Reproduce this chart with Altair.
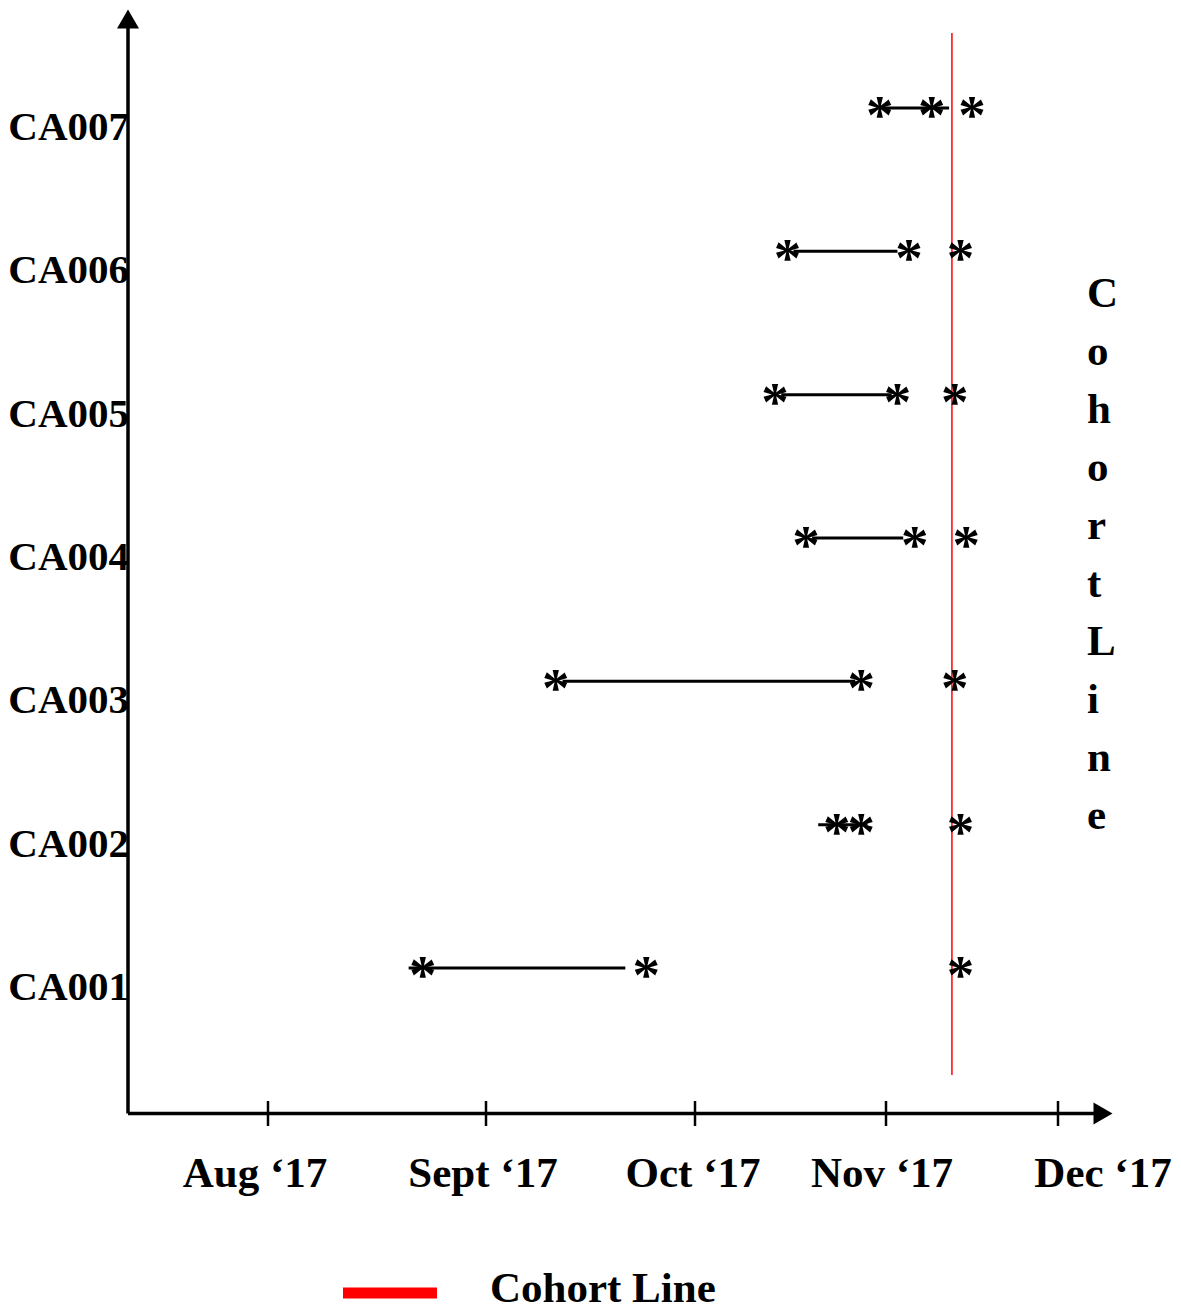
import altair as alt
import pandas as pd

# ---------------- data ----------------
participants = ["CA001", "CA002", "CA003", "CA004", "CA005", "CA006", "CA007"]
first_visit = ["2017-08-23", "2017-10-24", "2017-09-11", "2017-10-19", "2017-10-14", "2017-10-16", "2017-10-31"]
second_visit = ["2017-09-24", "2017-10-28", "2017-10-28", "2017-11-06", "2017-11-03", "2017-11-05", "2017-11-09"]
third_visit = ["2017-11-14", "2017-11-14", "2017-11-13", "2017-11-15", "2017-11-13", "2017-11-14", "2017-11-16"]
span_start = ["2017-08-21", "2017-10-21", "2017-09-12", "2017-10-20", "2017-10-15", "2017-10-17", "2017-10-31"]
span_end = ["2017-09-21", "2017-10-29", "2017-10-27", "2017-11-04", "2017-11-02", "2017-11-03", "2017-11-12"]
cohort_date = "2017-11-12 12:00"
month_ticks = ["2017-08-01", "2017-09-01", "2017-10-01", "2017-11-01", "2017-12-01"]
month_labels = ["Aug \u201817", "Sept \u201817", "Oct \u201817", "Nov \u201817", "Dec \u201817"]
legend_label = "Cohort Line"

# ---------------- helpers ----------------
ORIGIN = pd.Timestamp("2017-08-01")


def to_day(values):
    return list((pd.to_datetime(pd.Series(values)) - ORIGIN) / pd.Timedelta(days=1))


FONT = "Liberation Serif"
FS = 43

tick_days = to_day(month_ticks)
xscale = alt.Scale(domain=tick_days, range=[260, 478, 687, 878, 1050], zero=False, nice=False)
yscale = alt.Scale(type="point", domain=participants, range=[960, 100], padding=0)

spans = pd.DataFrame({
    "participant": participants,
    "start": to_day(span_start),
    "end": to_day(span_end),
})

visits = pd.DataFrame({
    "participant": participants * 3,
    "day": to_day(first_visit) + to_day(second_visit) + to_day(third_visit),
})

ticks = pd.DataFrame({"day": tick_days, "label": month_labels})
cohort = pd.DataFrame({"day": to_day([cohort_date])})
one = pd.DataFrame({"a": [0]})

# ---------------- layers ----------------
span_layer = alt.Chart(spans).mark_rule(color="black", strokeWidth=3).encode(
    x=alt.X("start:Q", scale=xscale, axis=None),
    x2="end:Q",
    y=alt.Y("participant:N", scale=yscale, axis=None),
)

star_layer = alt.Chart(visits).mark_text(
    text="*", font=FONT, fontWeight="bold", fontSize=55,
    baseline="alphabetic", align="center", dy=25, color="black",
).encode(
    x=alt.X("day:Q", scale=xscale, axis=None),
    y=alt.Y("participant:N", scale=yscale, axis=None),
)

ylabel_layer = alt.Chart(pd.DataFrame({"participant": participants})).mark_text(
    font=FONT, fontWeight="bold", fontSize=41, align="right",
    baseline="alphabetic", dy=32, color="black",
).encode(
    x=alt.value(121),
    y=alt.Y("participant:N", scale=yscale, axis=None),
    text="participant:N",
)

cohort_layer = alt.Chart(cohort).mark_rule(color="#ff0000", strokeWidth=1.5).encode(
    x=alt.X("day:Q", scale=xscale, axis=None),
    y=alt.value(25),
    y2=alt.value(1067),
)

yaxis_line = alt.Chart(one).mark_rule(color="black", strokeWidth=3.5).encode(
    x=alt.value(120), y=alt.value(18), y2=alt.value(1105.5)
)
xaxis_line = alt.Chart(one).mark_rule(color="black", strokeWidth=3.5).encode(
    y=alt.value(1105.5), x=alt.value(120), x2=alt.value(1090)
)
yarrow = alt.Chart(one).mark_point(
    shape="triangle-up", filled=True, size=484, color="black", opacity=1
).encode(x=alt.value(120), y=alt.value(11))
xarrow = alt.Chart(one).mark_point(
    shape="triangle-right", filled=True, size=484, color="black", opacity=1
).encode(x=alt.value(1095), y=alt.value(1105.5))

tick_layer = alt.Chart(ticks).mark_rule(color="black", strokeWidth=2.5).encode(
    x=alt.X("day:Q", scale=xscale, axis=None),
    y=alt.value(1093),
    y2=alt.value(1118),
)

label_dx = [-13, -3, -2, -4, 45]
label_layers = []
for i in range(len(month_labels)):
    label_layers.append(
        alt.Chart(ticks.iloc[[i]]).mark_text(
            font=FONT, fontWeight="bold", fontSize=FS, align="center",
            baseline="alphabetic", dx=label_dx[i], color="black",
        ).encode(
            x=alt.X("day:Q", scale=xscale, axis=None),
            y=alt.value(1179),
            text="label:N",
        )
    )

vertical_text = alt.Chart(one).mark_text(
    text="\n".join(legend_label.replace(" ", "")),
    lineBreak="\n", lineHeight=58,
    font=FONT, fontWeight="bold", fontSize=FS, align="left",
    baseline="alphabetic", color="black",
).encode(x=alt.value(1079), y=alt.value(299))

legend_swatch = alt.Chart(one).mark_rule(color="#ff0000", strokeWidth=11).encode(
    x=alt.value(335), x2=alt.value(429), y=alt.value(1285)
)
legend_text = alt.Chart(one).mark_text(
    text=legend_label, font=FONT, fontWeight="bold", fontSize=FS,
    align="left", baseline="alphabetic", color="black",
).encode(x=alt.value(482), y=alt.value(1294))

chart = alt.layer(
    cohort_layer, span_layer, star_layer, ylabel_layer,
    yaxis_line, xaxis_line, yarrow, xarrow, tick_layer,
    *label_layers, vertical_text, legend_swatch, legend_text,
).properties(
    width=1165, height=1303,
    autosize=alt.AutoSizeParams(type="none"),
    padding=0,
    background="white",
).configure_view(stroke=None)

chart.save("out.html", embed_options={"renderer": "svg", "actions": False})
